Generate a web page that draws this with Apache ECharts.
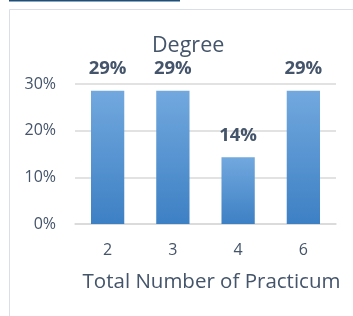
<!DOCTYPE html>
<html><head><meta charset="utf-8">
<script src="https://cdn.jsdelivr.net/npm/echarts@6/dist/echarts.min.js"></script>
<style>html,body{margin:0;padding:0;background:#fff}#c{width:353px;height:316px}</style>
</head><body><div id="c"></div>
<script>
const categories = ['2', '3', '4', '6'];
const values = [0.2857, 0.2857, 0.1429, 0.2857];
const yTicks = [0, 0.1, 0.2, 0.3];
const titleText = 'Degree';
const xName = 'Total Number of Practicum';

const txt = '#44546A';
const font = '"Open Sans", "Liberation Sans", sans-serif';
const chart = echarts.init(document.getElementById('c'), null, {renderer: 'canvas'});
chart.setOption({
  animation: false,
  backgroundColor: '#fff',
  title: {text: titleText, left: 147, top: 30,
    textStyle: {color: txt, fontSize: 21.5, fontWeight: 'normal', fontFamily: font}},
  graphic: [
    {type: 'rect', shape: {x: 9, y: 0, width: 171, height: 1.5}, style: {fill: '#1F4E79'}},
    {type: 'line', shape: {x1: 9.5, y1: 9.5, x2: 353, y2: 9.5}, style: {stroke: '#D9DFE6', lineWidth: 1}},
    {type: 'line', shape: {x1: 9.5, y1: 9.5, x2: 9.5, y2: 316}, style: {stroke: '#D9DFE6', lineWidth: 1}}
  ],
  grid: {left: 75, right: 17, top: 84, bottom: 92},
  xAxis: {
    type: 'category', data: categories,
    axisTick: {show: false},
    axisLine: {lineStyle: {color: '#D9D9D9', width: 1.5}},
    axisLabel: {color: txt, fontSize: 16, fontFamily: font, margin: 18},
    name: xName, nameLocation: 'middle', nameGap: 48,
    nameTextStyle: {color: txt, fontSize: 20.5, fontFamily: font, padding: [0, 0, 0, 12]}
  },
  yAxis: {
    type: 'value', min: yTicks[0], max: yTicks[yTicks.length - 1], interval: 0.1,
    axisLine: {show: false}, axisTick: {show: false},
    splitLine: {lineStyle: {color: '#D9D9D9', width: 1.5}},
    axisLabel: {color: txt, fontSize: 16, fontFamily: font, margin: 19,
      formatter: v => Math.round(v * 100) + '%'}
  },
  series: [{
    type: 'bar', data: values, barWidth: '51%',
    itemStyle: {color: new echarts.graphic.LinearGradient(0, 0, 0, 1, [
      {offset: 0, color: '#72A8DE'}, {offset: 1, color: '#3D80C4'}])},
    label: {show: true, position: 'top', distance: 12, color: txt, fontSize: 18.5,
      fontWeight: 'bold', fontFamily: font,
      formatter: p => Math.round(p.value * 100) + '%'}
  }]
});
</script></body></html>
